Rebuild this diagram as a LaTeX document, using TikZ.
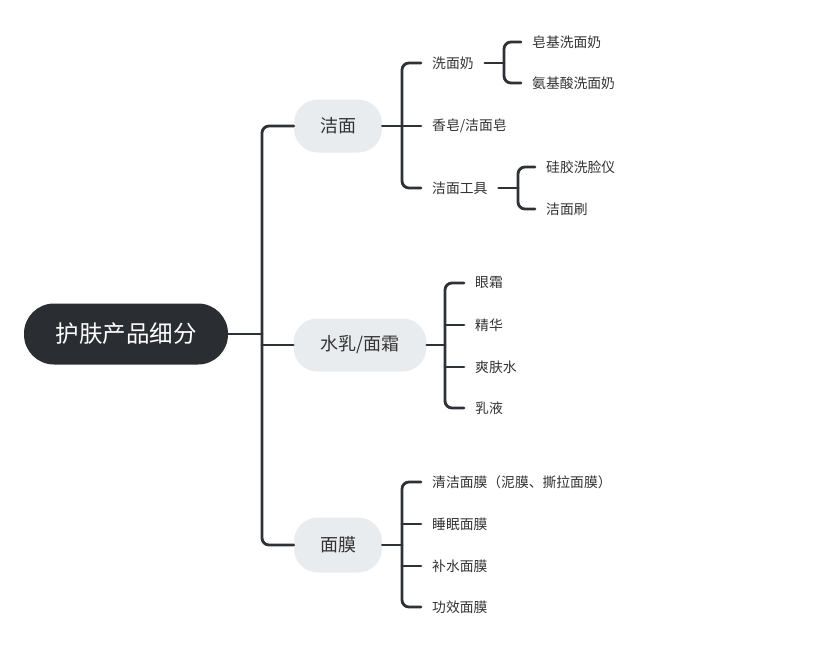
\documentclass[tikz,border=0pt]{standalone}
\usepackage{fontspec}
\setmainfont{Noto Sans CJK SC}
\definecolor{lineC}{HTML}{2E3236}
\definecolor{rootC}{HTML}{2A2E33}
\definecolor{pillC}{HTML}{E9ECEF}
\definecolor{txtC}{HTML}{333333}
\begin{document}
\begin{tikzpicture}[x=1pt,y=-1pt,
  conn/.style={draw=lineC,line width=2.8pt,rounded corners=7pt,line cap=round},
  rootbox/.style={fill=rootC,text=white,rounded corners=30pt,minimum width=204pt,minimum height=61pt,font=\fontsize{23.5}{27}\selectfont,inner sep=0pt},
  pill/.style={fill=pillC,text=txtC,rounded corners=24pt,minimum height=53pt,font=\fontsize{18}{21}\selectfont,inner sep=0pt},
  leaf/.style={anchor=west,text=txtC,font=\fontsize{13.8}{16}\selectfont,inner xsep=11pt,inner ysep=2pt}]
\useasboundingbox (0,0) rectangle (840,649);
\fill[white] (0,0) rectangle (840,649);
% root
\node[rootbox] (root) at (126,334) {护肤产品细分};
% level 1
\node[pill,minimum width=88pt] (jm) at (338,126) {洁面};
\node[pill,minimum width=133pt] (sr) at (360,345) {水乳/面霜};
\node[pill,minimum width=88pt,minimum height=55pt] (mm) at (338,545) {面膜};
\coordinate (tr) at (262,334);
\draw[conn] (root.east) -- (tr);
\draw[conn] (jm.west) -| (tr) |- (mm.west);
\draw[conn] (tr |- sr.west) -- (sr.west);
% 洁面 children
\node[leaf] (xm) at (421,63) {洗面奶};
\node[leaf] (xz) at (421,126) {香皂/洁面皂};
\node[leaf] (jg) at (421,188) {洁面工具};
\coordinate (b1) at (402,126);
\draw[conn] (jm.east) -- (b1);
\draw[conn] (xm.west) -| (b1) |- (jg.west);
\draw[conn] (b1) -- (xz.west);
% 洗面奶 children
\node[leaf] (zj) at (521,42) {皂基洗面奶};
\node[leaf] (aj) at (521,83) {氨基酸洗面奶};
\coordinate (b2) at (504,63);
\draw[conn] (xm.east) -- (b2);
\draw[conn] (zj.west) -| (b2) |- (aj.west);
% 洁面工具 children
\node[leaf] (gj) at (535,167) {硅胶洗脸仪};
\node[leaf] (js) at (535,209) {洁面刷};
\coordinate (b3) at (518,188);
\draw[conn] (jg.east) -- (b3);
\draw[conn] (gj.west) -| (b3) |- (js.west);
% 水乳/面霜 children
\node[leaf] (ys) at (464,283) {眼霜};
\node[leaf] (jh) at (464,325) {精华};
\node[leaf] (sf) at (464,367) {爽肤水};
\node[leaf] (ry) at (464,408) {乳液};
\coordinate (b4) at (445,345);
\draw[conn] (sr.east) -- (b4);
\draw[conn] (ys.west) -| (b4) |- (ry.west);
\draw[conn] (b4 |- jh.west) -- (jh.west);
\draw[conn] (b4 |- sf.west) -- (sf.west);
% 面膜 children
\node[leaf] (qj) at (421,482) {清洁面膜（泥膜、撕拉面膜）};
\node[leaf] (sm) at (421,524) {睡眠面膜};
\node[leaf] (bs) at (421,566) {补水面膜};
\node[leaf] (gx) at (421,607) {功效面膜};
\coordinate (b5) at (402,545);
\draw[conn] (mm.east) -- (b5);
\draw[conn] (qj.west) -| (b5) |- (gx.west);
\draw[conn] (b5 |- sm.west) -- (sm.west);
\draw[conn] (b5 |- bs.west) -- (bs.west);
\end{tikzpicture}
\end{document}
